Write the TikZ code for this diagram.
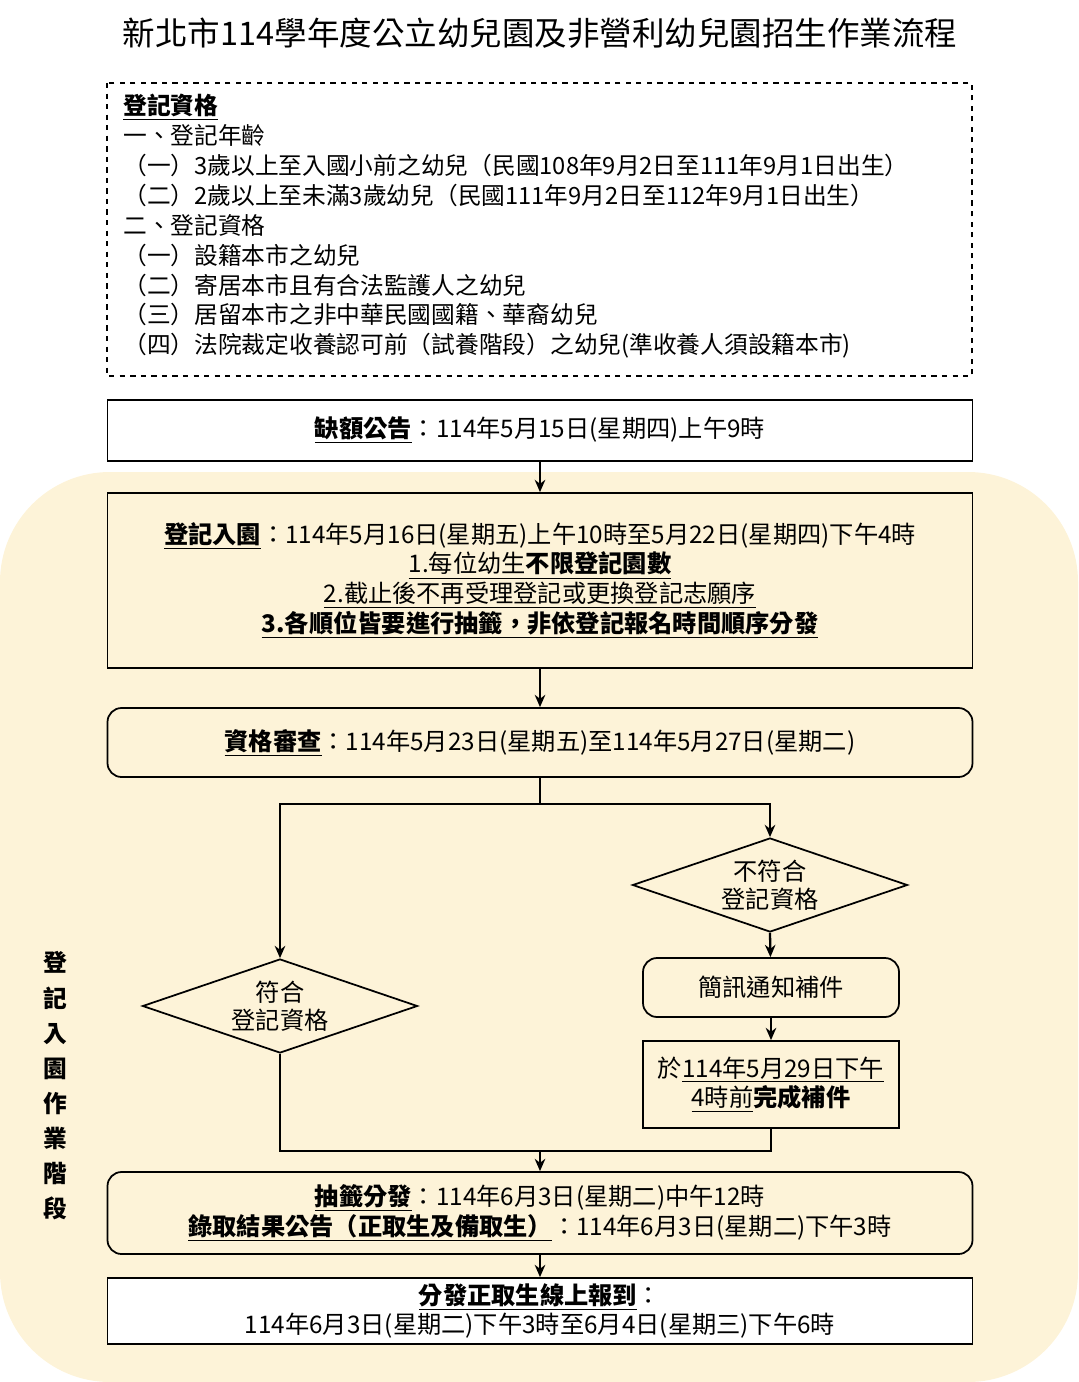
\documentclass[tikz,border=0pt]{standalone}
\usepackage{fontspec}
\setmainfont{Noto Sans CJK TC}
\usetikzlibrary{shapes.geometric,arrows.meta}
\definecolor{beige}{HTML}{FDF3D8}
\begin{document}
\begin{tikzpicture}[x=0.02cm,y=-0.02cm,
  every node/.style={font=\fontsize{13.8}{16}\selectfont},
  box/.style={draw,line width=1pt,fill=beige,minimum width=865*0.02cm,align=center,inner sep=0pt},
  rbox/.style={box,rounded corners=8pt},
  dia/.style={draw,diamond,aspect=2.9,line width=1pt,fill=beige,minimum width=275*0.02cm,minimum height=94*0.02cm,align=center,inner sep=0pt},
  arr/.style={line width=1.3pt,-{Stealth[length=7pt,width=6pt]}},
  ln/.style={line width=1.3pt}]
\useasboundingbox (0,0) rectangle (1078,1382);
\fill[beige,rounded corners=110*0.02cm] (0,472) rectangle (1078,1382);
\node (title) at (540,33) {\fontsize{18.5}{20}\selectfont 新北市114學年度公立幼兒園及非營利幼兒園招生作業流程};
\draw[dashed,line width=0.9pt,fill=white] (107,83) rectangle (972,376);
\node[anchor=north west,align=left,inner sep=0pt,font=\fontsize{13.5}{17}\selectfont] (qual) at (123,94) {%
\textbf{\underline{登記資格}}\\
一、登記年齡\\
（一）3歲以上至入國小前之幼兒（民國108年9月2日至111年9月1日出生）\\
（二）2歲以上至未滿3歲幼兒（民國111年9月2日至112年9月1日出生）\\
二、登記資格\\
（一）設籍本市之幼兒\\
（二）寄居本市且有合法監護人之幼兒\\
（三）居留本市之非中華民國國籍、華裔幼兒\\
（四）法院裁定收養認可前（試養階段）之幼兒(準收養人須設籍本市)};
\node[box,fill=white,minimum height=61*0.02cm] (b1) at (540,430.5) {\textbf{\underline{缺額公告}}：114年5月15日(星期四)上午9時};
\node[box,minimum height=175*0.02cm,font=\fontsize{13.8}{17}\selectfont] (b2) at (540,580.5) {\textbf{\underline{登記入園}}：114年5月16日(星期五)上午10時至5月22日(星期四)下午4時\\
\underline{1.每位幼生\textbf{不限登記園數}}\\
\underline{2.截止後不再受理登記或更換登記志願序}\\
\textbf{\underline{3.各順位皆要進行抽籤，非依登記報名時間順序分發}}};
\node[rbox,minimum height=69*0.02cm] (b3) at (540,742.5) {\textbf{\underline{資格審查}}：114年5月23日(星期五)至114年5月27日(星期二)};
\node[dia] (dr) at (770,885) {不符合\\登記資格};
\node[dia] (dl) at (280,1006) {符合\\登記資格};
\node[rbox,minimum width=256*0.02cm,minimum height=59*0.02cm] (sms) at (771,987.5) {簡訊通知補件};
\node[box,minimum width=256*0.02cm,minimum height=87*0.02cm,font=\fontsize{13.8}{17}\selectfont] (due) at (771,1084.5) {於\underline{114年5月29日下午}\\\underline{4時前}\textbf{完成補件}};
\node[rbox,minimum height=82*0.02cm,font=\fontsize{13.8}{17}\selectfont] (b4) at (540,1213) {\textbf{\underline{抽籤分發}}：114年6月3日(星期二)中午12時\\
\textbf{\underline{錄取結果公告（正取生及備取生）}}：114年6月3日(星期二)下午3時};
\node[box,fill=white,minimum height=66*0.02cm,font=\fontsize{13.8}{17}\selectfont] (b5) at (540,1311) {\textbf{\underline{分發正取生線上報到}}：\\114年6月3日(星期二)下午3時至6月4日(星期三)下午6時};
\node[align=center,font=\fontsize{13.5}{20}\selectfont\bfseries] (side) at (55,1086) {登\\記\\入\\園\\作\\業\\階\\段};
\coordinate (s) at (540,804);
\coordinate (m) at (540,1151);
\draw[arr] (b1) -- (b2);
\draw[arr] (b2) -- (b3);
\draw[ln] (b3.south) -- (s);
\draw[arr] (s) -| (dl.north);
\draw[arr] (s) -| (dr.north);
\draw[arr] (dr.south) -- (sms);
\draw[arr] (sms) -- (due);
\draw[ln] (dl.south) |- (m);
\draw[ln] (due.south) |- (m);
\draw[arr] (m) -- (b4);
\draw[arr] (b4) -- (b5);
\end{tikzpicture}
\end{document}
